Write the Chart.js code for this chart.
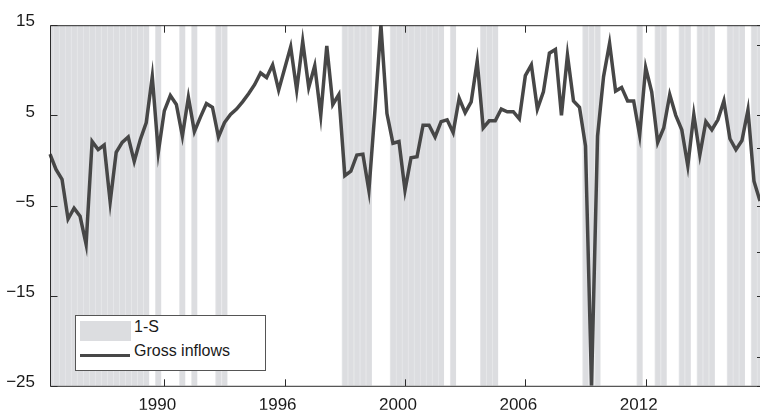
<!DOCTYPE html>
<html>
<head>
<meta charset="utf-8">
<script src="https://cdn.jsdelivr.net/npm/chart.js@4.4.1/dist/chart.umd.min.js"></script>
<style>
  html, body { margin: 0; padding: 0; background: #fff; overflow: hidden; }
  #wrap { position: relative; width: 760px; height: 411px; }
  #legend {
    position: absolute; left: 75px; top: 315px; width: 191px; height: 56px;
    box-sizing: border-box; border: 1px solid #555; background: #fff;
    font-family: "Liberation Sans", Arial, sans-serif; font-size: 16px; color: #1a1a1a;
  }
  #legend .sw-box { position: absolute; left: 4px; top: 5px; width: 51px; height: 20px; }
  #legend .sw-line { position: absolute; left: 4px; top: 38px; width: 50px; height: 3px; }
  #legend .txt { position: absolute; left: 58px; line-height: 16px; white-space: nowrap; }
</style>
</head>
<body>
<div id="wrap">
  <canvas id="chart" width="760" height="411"></canvas>
  <div id="legend"></div>
</div>
<script>
// Quarterly categories
const quarterCount = 119;
const quarters = [];
for (let k = 0; k < quarterCount; k++) {
  const q = (1 + k) % 4;           // start in Q2
  const yr = 1986 + Math.floor((1 + k) / 4);
  quarters.push(yr + 'Q' + (q + 1));
}

// Gross inflows (per cent)
const grossInflows = [
  0.7, -1.0, -2.1, -6.5, -5.3, -6.2, -9.3, 2.1, 1.2, 1.7,
  -4.6, 0.9, 2.0, 2.6, -0.1, 2.3, 4.2, 9.3, 0.9, 5.5,
  7.2, 6.2, 2.7, 7.0, 3.2, 4.8, 6.3, 5.9, 2.6, 4.2,
  5.1, 5.7, 6.5, 7.4, 8.4, 9.7, 9.2, 10.6, 7.8, 10.2,
  12.6, 7.8, 13.2, 8.1, 10.5, 5.0, 12.7, 6.2, 7.3, -1.7,
  -1.2, 0.6, 0.7, -3.35, 5.5, 15.0, 5.2, 1.9, 2.1, -3.3,
  0.3, 0.4, 3.9, 3.9, 2.6, 4.3, 4.5, 3.1, 6.9, 5.3,
  6.5, 11.0, 3.6, 4.4, 4.4, 5.7, 5.4, 5.4, 4.6, 9.4,
  10.6, 5.7, 7.6, 11.9, 12.3, 5.0, 11.7, 6.6, 5.9, 1.6,
  -25.0, 2.7, 9.3, 13.0, 7.7, 8.1, 6.6, 6.6, 2.8, 10.3,
  7.6, 2.0, 3.6, 7.3, 5.0, 3.4, -0.6, 5.1, 0.6, 4.3,
  3.4, 4.5, 6.6, 2.4, 1.2, 2.2, 5.6, -2.3, -4.5
];

// 1-S regime indicator (1 = shaded quarter)
const oneMinusS = [
  1, 1, 1, 1, 1, 1, 1, 1, 1, 1,
  1, 1, 1, 1, 1, 1, 1, 0, 1, 0,
  0, 0, 1, 0, 1, 0, 0, 0, 1, 1,
  0, 0, 0, 0, 0, 0, 0, 0, 0, 0,
  0, 0, 0, 0, 0, 0, 0, 0, 0, 1,
  1, 1, 1, 1, 0, 0, 0, 1, 1, 1,
  1, 1, 1, 1, 1, 1, 0, 1, 0, 0,
  0, 0, 1, 1, 1, 0, 0, 0, 0, 0,
  0, 0, 0, 0, 0, 0, 0, 0, 0, 1,
  1, 1, 0, 0, 0, 0, 0, 0, 1, 0,
  0, 1, 1, 0, 0, 1, 1, 0, 1, 1,
  1, 0, 0, 1, 1, 1, 0, 1, 1
];

// Axis ticks
const yTicks = [15, 5, -5, -15, -25];
const xTickAt = [19, 39, 59, 79, 99];
const xTickLabels = ['1990', '1996', '2000', '2006', '2012'];
const shareTicks = [0.08, 0.37, 0.66, 0.945];

const FONT = '"Liberation Sans", Arial, sans-serif';
const AXIS = '#2b2b2b';

// Boxed frame with inward tick marks on every side
const framePlugin = {
  id: 'frame',
  afterDraw(chart) {
    const { ctx, chartArea: a, scales } = chart;
    const L = a.left + 0.5, R = a.right - 0.5, T = a.top + 0.5, B = a.bottom + 0.5;
    ctx.save();
    ctx.strokeStyle = AXIS;
    ctx.lineWidth = 1;
    ctx.beginPath();
    ctx.moveTo(L, B); ctx.lineTo(L, T); ctx.lineTo(a.right + 2, T);
    ctx.moveTo(L, B); ctx.lineTo(a.right + 2, B);
    yTicks.forEach(v => {
      const y = Math.round(scales.y.getPixelForValue(v)) + 0.5;
      ctx.moveTo(L, y); ctx.lineTo(L + 7, y);
      ctx.moveTo(a.right, y); ctx.lineTo(a.right - 3, y);
    });
    xTickAt.forEach(i => {
      const x = Math.round(scales.x.getPixelForValue(i)) + 0.5;
      ctx.moveTo(x, B); ctx.lineTo(x, B - 7);
      ctx.moveTo(x, T); ctx.lineTo(x, T + 7);
    });
    shareTicks.forEach(v => {
      const y = Math.round(scales.yS.getPixelForValue(v)) + 0.5;
      ctx.moveTo(a.right, y); ctx.lineTo(a.right - 3, y);
    });
    ctx.stroke();
    ctx.restore();
  }
};

// Legend box built from the datasets
const htmlLegend = {
  id: 'htmlLegend',
  afterUpdate(chart) {
    const box = document.getElementById('legend');
    box.innerHTML = '';
    const [bars, line] = chart.data.datasets;
    const s1 = document.createElement('div');
    s1.className = 'sw-box'; s1.style.background = bars.backgroundColor;
    const t1 = document.createElement('div');
    t1.className = 'txt'; t1.style.top = '3px'; t1.textContent = bars.label;
    const s2 = document.createElement('div');
    s2.className = 'sw-line'; s2.style.background = line.borderColor;
    const t2 = document.createElement('div');
    t2.className = 'txt'; t2.style.top = '27px'; t2.textContent = line.label;
    box.append(s1, t1, s2, t2);
  }
};

new Chart(document.getElementById('chart'), {
  data: {
    labels: quarters,
    datasets: [
      {
        type: 'bar',
        label: '1-S',
        data: oneMinusS.map(v => (v ? 1 : null)),
        yAxisID: 'yS',
        backgroundColor: '#dcdde0',
        borderColor: '#e7e8ea',
        borderWidth: { left: 1, right: 0, top: 0, bottom: 0 },
        borderSkipped: false,
        barPercentage: 1,
        categoryPercentage: 1,
        order: 2
      },
      {
        type: 'line',
        label: 'Gross inflows',
        data: grossInflows,
        yAxisID: 'y',
        borderColor: '#474747',
        borderWidth: 3.5,
        pointRadius: 0,
        tension: 0,
        order: 1
      }
    ]
  },
  options: {
    responsive: false,
    animation: false,
    events: [],
    layout: { padding: { top: 23, right: 0, left: 0, bottom: 0 } },
    plugins: { legend: { display: false }, tooltip: { enabled: false } },
    scales: {
      x: {
        type: 'category',
        offset: false,
        grid: { display: false, drawTicks: false },
        border: { display: false },
        afterBuildTicks(scale) { scale.ticks = xTickAt.map(v => ({ value: v })); },
        afterFit(scale) { scale.height = 24; },
        ticks: {
          autoSkip: false, maxRotation: 0, minRotation: 0,
          padding: 9, labelOffset: -7,
          color: '#1a1a1a',
          font: { family: FONT, size: 17 },
          callback(value) { return xTickLabels[xTickAt.indexOf(value)]; }
        }
      },
      y: {
        position: 'left',
        min: -25, max: 15,
        grid: { display: false, drawTicks: false },
        border: { display: false },
        afterBuildTicks(scale) { scale.ticks = yTicks.map(v => ({ value: v })); },
        afterFit(scale) { scale.width = 50; },
        ticks: {
          padding: 15, labelOffset: -3.5,
          color: '#1a1a1a',
          font: { family: FONT, size: 17 },
          callback(value) { return String(value).replace('-', '\u2212'); }
        }
      },
      yS: {
        position: 'right',
        display: false,
        min: 0, max: 1
      }
    }
  },
  plugins: [framePlugin, htmlLegend]
});
</script>
</body>
</html>
